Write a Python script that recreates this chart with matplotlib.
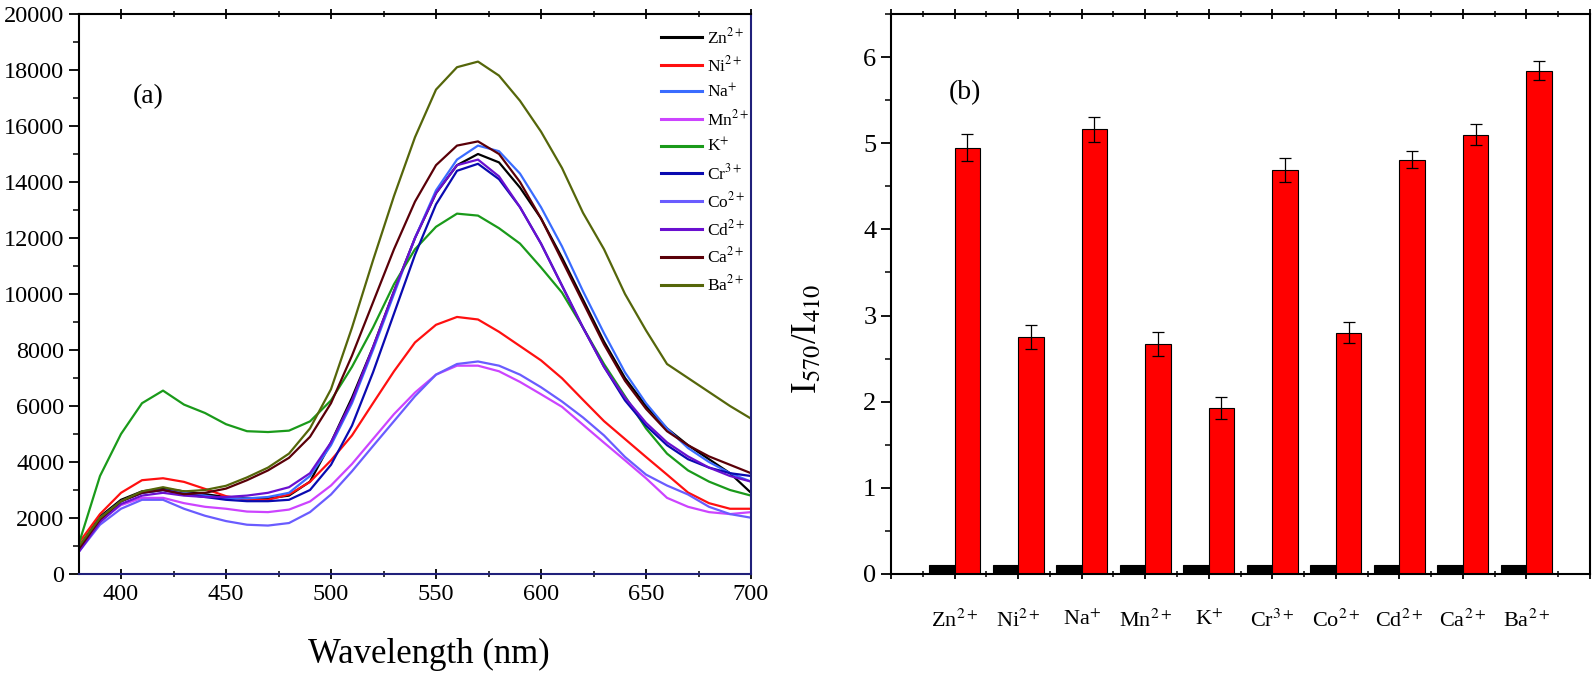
import numpy as np
import matplotlib
matplotlib.use('Agg')
import matplotlib.pyplot as plt
from matplotlib.ticker import MultipleLocator, FixedLocator

plt.rcParams['font.family'] = ['Liberation Serif', 'DejaVu Serif']
plt.rcParams['mathtext.fontset'] = 'stix'

# (a) emission spectra, read every 10 nm
wavelength = np.arange(380, 701, 10)

zn = [950, 2050, 2650, 2950, 3050, 2950, 2850, 2750, 2700, 2700, 2800, 3300, 4700, 6300, 8100, 10100,
      12000, 13600, 14600, 15000, 14700, 13800, 12700, 11300, 9800, 8300, 7000, 6000, 5200, 4600, 4100, 3600, 2900]
ni = [1120, 2140, 2900, 3350, 3420, 3290, 3040, 2780, 2650, 2650, 2840, 3290, 4060, 4950, 6100, 7240,
      8270, 8900, 9180, 9090, 8650, 8140, 7630, 6990, 6220, 5460, 4820, 4180, 3550, 2910, 2530, 2330, 2330]
na = [900, 2000, 2600, 2900, 3000, 2900, 2800, 2700, 2700, 2750, 2900, 3500, 4600, 6100, 8000, 10000,
      12000, 13700, 14800, 15300, 15100, 14300, 13100, 11700, 10100, 8600, 7200, 6100, 5200, 4500, 4000, 3600, 3300]
mn = [870, 1890, 2460, 2720, 2720, 2530, 2400, 2330, 2230, 2210, 2300, 2590, 3160, 3930, 4820, 5710,
      6480, 7120, 7440, 7440, 7240, 6860, 6420, 5970, 5330, 4690, 4060, 3420, 2720, 2400, 2210, 2140, 2210]
k = [1100, 3500, 5000, 6100, 6550, 6050, 5750, 5350, 5100, 5070, 5120, 5450, 6200, 7400, 8800, 10350,
     11600, 12400, 12870, 12800, 12350, 11800, 10950, 10050, 8800, 7500, 6350, 5200, 4300, 3700, 3300, 3000, 2800]
cr = [850, 1950, 2600, 2900, 3000, 2850, 2750, 2650, 2600, 2600, 2650, 3000, 3900, 5300, 7200, 9300,
      11400, 13200, 14400, 14650, 14100, 13100, 11800, 10300, 8800, 7400, 6200, 5300, 4600, 4100, 3800, 3600, 3500]
co = [800, 1760, 2330, 2650, 2650, 2330, 2080, 1890, 1760, 1730, 1820, 2210, 2840, 3670, 4570, 5460,
      6350, 7120, 7500, 7590, 7440, 7120, 6670, 6160, 5590, 4950, 4180, 3550, 3160, 2840, 2400, 2140, 2010]
cd = [800, 1850, 2500, 2800, 2900, 2800, 2750, 2750, 2800, 2900, 3100, 3600, 4700, 6200, 8100, 10100,
      12000, 13600, 14600, 14800, 14200, 13100, 11800, 10300, 8800, 7400, 6300, 5400, 4700, 4200, 3800, 3500, 3300]
ca = [900, 1950, 2600, 2900, 3000, 2850, 2900, 3050, 3350, 3700, 4150, 4900, 6100, 7800, 9700, 11600,
      13300, 14600, 15300, 15450, 15000, 14000, 12700, 11200, 9700, 8200, 6900, 5900, 5100, 4600, 4200, 3900, 3600]
ba = [1000, 2000, 2600, 2950, 3100, 2950, 3000, 3150, 3450, 3800, 4300, 5200, 6600, 8800, 11200, 13500,
      15600, 17300, 18100, 18300, 17800, 16900, 15800, 14500, 12900, 11600, 10000, 8700, 7500, 7000, 6500, 6000, 5550]

ion_labels = [r'Zn$^{2+}$', r'Ni$^{2+}$', r'Na$^{+}$', r'Mn$^{2+}$', r'K$^{+}$',
              r'Cr$^{3+}$', r'Co$^{2+}$', r'Cd$^{2+}$', r'Ca$^{2+}$', r'Ba$^{2+}$']
spectra = [zn, ni, na, mn, k, cr, co, cd, ca, ba]
line_colors = ['#000000', '#ff1010', '#3a6cff', '#cc44ff', '#1a9a1a',
               '#0a0ab0', '#6a5cff', '#6a10d0', '#5a0008', '#55660a']

# (b) intensity ratio
blank_ratio = [0.1] * 10
ratio = [4.95, 2.75, 5.16, 2.67, 1.93, 4.69, 2.80, 4.81, 5.10, 5.84]
ratio_err = [0.155, 0.14, 0.15, 0.14, 0.13, 0.14, 0.12, 0.10, 0.12, 0.11]

fig = plt.figure(figsize=(15.95, 6.76), dpi=100)
ax1 = fig.add_axes([79 / 1595, 102 / 676, 672 / 1595, 560 / 676])
ax2 = fig.add_axes([891 / 1595, 102 / 676, 699 / 1595, 560 / 676])

# ---- panel (a)
for y, c, lab in zip(spectra, line_colors, ion_labels):
    ax1.plot(wavelength, y, color=c, lw=1.6, label=lab)

ax1.set_xlim(380, 700)
ax1.set_ylim(0, 20000)
ax1.xaxis.set_major_locator(MultipleLocator(50))
ax1.xaxis.set_minor_locator(MultipleLocator(25))
ax1.yaxis.set_major_locator(MultipleLocator(2000))
ax1.yaxis.set_minor_locator(MultipleLocator(1000))
ax1.tick_params(axis='both', which='major', direction='out', length=7, width=1.3, labelsize=17.5)
ax1.tick_params(axis='both', which='minor', direction='out', length=4, width=1.1)
ax1.tick_params(axis='x', which='both', top=True)
ax1.tick_params(axis='x', which='both', direction='inout')
ax1.set_xlabel('Wavelength (nm)', fontsize=25)
ax1.xaxis.set_label_coords(0.52, -0.115)
ax1.text(0.103, 0.852, '(a)', transform=ax1.transAxes, fontsize=20, ha='center', va='center')
for s in ax1.spines.values():
    s.set_linewidth(1.5)
ax1.spines['bottom'].set_color('#20207a')
ax1.spines['right'].set_color('#20207a')

leg = ax1.legend(loc='upper left', bbox_to_anchor=(0.85, 0.995), frameon=False, fontsize=12.5,
                 handlelength=2.4, handletextpad=0.25, labelspacing=0.45, borderaxespad=0.2)
for h in leg.get_lines():
    h.set_linewidth(2.2)

# ---- panel (b)
pos = np.arange(1, 11)
ax2.bar(pos - 0.2, blank_ratio, width=0.4, color='black', edgecolor='black', lw=0.8)
ax2.bar(pos + 0.2, ratio, width=0.4, color='#ff0000', edgecolor='black', lw=0.8,
        yerr=ratio_err, error_kw=dict(ecolor='black', elinewidth=0.9, capsize=4, capthick=0.9))

ax2.set_xlim(0, 11)
ax2.set_ylim(0, 6.5)
ax2.xaxis.set_major_locator(FixedLocator(np.arange(0, 12)))
ax2.xaxis.set_minor_locator(MultipleLocator(0.5))
ax2.set_xticklabels([''] + ion_labels + [''])
ax2.yaxis.set_major_locator(MultipleLocator(1))
ax2.yaxis.set_minor_locator(MultipleLocator(0.5))
ax2.tick_params(axis='both', which='major', direction='out', length=7, width=1.3)
ax2.tick_params(axis='both', which='minor', direction='out', length=4, width=1.1)
ax2.tick_params(axis='y', labelsize=19)
ax2.tick_params(axis='x', labelsize=16, pad=22)
ax2.tick_params(axis='x', which='both', top=True)
ax2.tick_params(axis='x', which='both', direction='inout')
ax2.set_ylabel(r'I$_{570}$/I$_{410}$', fontsize=25)
ax2.yaxis.set_label_coords(-0.095, 0.42)
ax2.text(0.106, 0.859, '(b)', transform=ax2.transAxes, fontsize=20, ha='center', va='center')
for s in ax2.spines.values():
    s.set_linewidth(1.5)

fig.savefig('out.png', dpi=100)
